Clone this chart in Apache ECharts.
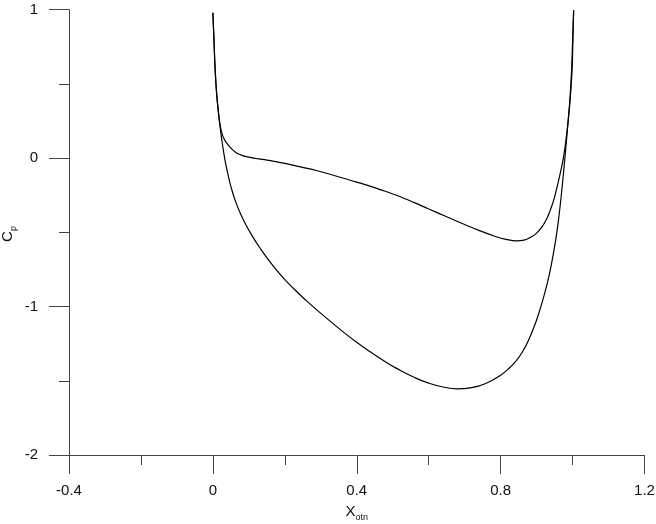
<!DOCTYPE html>
<html>
<head>
<meta charset="utf-8">
<script src="https://cdn.jsdelivr.net/npm/echarts@6/dist/echarts.min.js"></script>
<style>html,body{margin:0;padding:0;background:#fff}#c{width:656px;height:524px}</style>
</head>
<body>
<div id="c"></div>
<script>
// Upper surface Cp distribution (x, Cp)
var upperX = [0, 0.003, 0.006, 0.010, 0.015, 0.020, 0.025, 0.030, 0.039, 0.050, 0.062, 0.075, 0.09, 0.11, 0.127, 0.15, 0.2, 0.243, 0.29, 0.335, 0.38, 0.428, 0.475, 0.521, 0.56, 0.6, 0.65, 0.7, 0.743, 0.78, 0.815, 0.846, 0.865, 0.883, 0.9, 0.915, 0.928, 0.938, 0.948, 0.957, 0.966, 0.975, 0.982, 0.989, 0.995, 0.999, 1.001, 1.003];
var upperY = [0.98, 0.80, 0.615, 0.45, 0.32, 0.225, 0.17, 0.135, 0.099, 0.068, 0.042, 0.024, 0.012, 0.002, -0.005, -0.013, -0.035, -0.059, -0.085, -0.115, -0.147, -0.182, -0.22, -0.26, -0.30, -0.343, -0.395, -0.447, -0.49, -0.523, -0.547, -0.557, -0.552, -0.534, -0.505, -0.463, -0.41, -0.35, -0.28, -0.193, -0.10, 0.009, 0.13, 0.278, 0.45, 0.615, 0.80, 0.997];
// Lower surface Cp distribution (x, Cp)
var lowerX = [0, 0.003, 0.006, 0.010, 0.015, 0.020, 0.025, 0.030, 0.035, 0.042, 0.050, 0.060, 0.075, 0.090, 0.104, 0.13, 0.168, 0.2, 0.24, 0.27, 0.31, 0.363, 0.40, 0.437, 0.475, 0.512, 0.558, 0.6, 0.64, 0.679, 0.72, 0.76, 0.80, 0.82, 0.84, 0.86, 0.88, 0.90, 0.915, 0.928, 0.938, 0.948, 0.956, 0.962, 0.968, 0.975, 0.982, 0.988, 0.993, 0.997, 1.000, 1.003];
var lowerY = [0.98, 0.80, 0.615, 0.45, 0.32, 0.21, 0.12, 0.04, -0.03, -0.11, -0.19, -0.27, -0.365, -0.44, -0.502, -0.602, -0.728, -0.818, -0.915, -0.982, -1.066, -1.172, -1.241, -1.305, -1.365, -1.418, -1.475, -1.516, -1.542, -1.554, -1.546, -1.517, -1.462, -1.423, -1.374, -1.308, -1.213, -1.09, -0.975, -0.86, -0.755, -0.625, -0.505, -0.395, -0.265, -0.095, 0.09, 0.26, 0.41, 0.58, 0.78, 0.997];

var xMin = -0.4, xMax = 1.2, xStep = 0.4;
var yMin = -2, yMax = 1, yStep = 1;

function pairs(xs, ys) { return xs.map(function (x, i) { return [x, ys[i]]; }); }

var axisColor = '#444';
var font = 'Liberation Sans, Arial, sans-serif';
var richSub = {
  m: { fontSize: 15, fill: '#111', color: '#111', fontFamily: font, lineHeight: 18, verticalAlign: 'top' },
  s: { fontSize: 9, fill: '#111', color: '#111', fontFamily: font, lineHeight: 9, verticalAlign: 'bottom', padding: [8, 0, 0, 0] }
};
var chart = echarts.init(document.getElementById('c'), null, { renderer: 'canvas' });
chart.setOption({
  backgroundColor: '#fff',
  animation: false,
  grid: { left: 69, right: 11.5, top: 9.7, bottom: 69, containLabel: false, outerBoundsMode: 'none' },
  xAxis: {
    type: 'value', min: xMin, max: xMax, interval: xStep,
    axisLine: { onZero: false, lineStyle: { color: axisColor, width: 1 } },
    axisTick: { show: true, length: 19, lineStyle: { color: axisColor } },
    minorTick: { show: true, splitNumber: 2, length: 10, lineStyle: { color: axisColor } },
    splitLine: { show: false },
    axisLabel: { margin: 28, fontSize: 15, color: '#111', fontFamily: font,
      formatter: function (v) { return String(Math.round(v * 10) / 10); } },
    name: '{m|X}{s|otn}', nameLocation: 'middle', nameGap: 49,
    nameTextStyle: { rich: richSub }
  },
  yAxis: {
    type: 'value', min: yMin, max: yMax, interval: yStep,
    axisLine: { onZero: false, lineStyle: { color: axisColor, width: 1 } },
    axisTick: { show: true, length: 20, lineStyle: { color: axisColor } },
    minorTick: { show: true, splitNumber: 2, length: 10, lineStyle: { color: axisColor } },
    splitLine: { show: false },
    axisLabel: { margin: 31, fontSize: 15, color: '#111', fontFamily: font }
  },
  graphic: [{
    type: 'text', x: 9, y: 234, rotation: Math.PI / 2,
    style: { text: '{m|C}{s|p}', rich: richSub, align: 'center', verticalAlign: 'middle', fill: '#111' }
  }],
  series: [
    { type: 'line', data: pairs(upperX, upperY), showSymbol: false, smooth: 0.5,
      lineStyle: { color: '#000', width: 1.2 } },
    { type: 'line', data: pairs(lowerX, lowerY), showSymbol: false, smooth: 0.5,
      lineStyle: { color: '#000', width: 1.2 } }
  ]
});
</script>
</body>
</html>
